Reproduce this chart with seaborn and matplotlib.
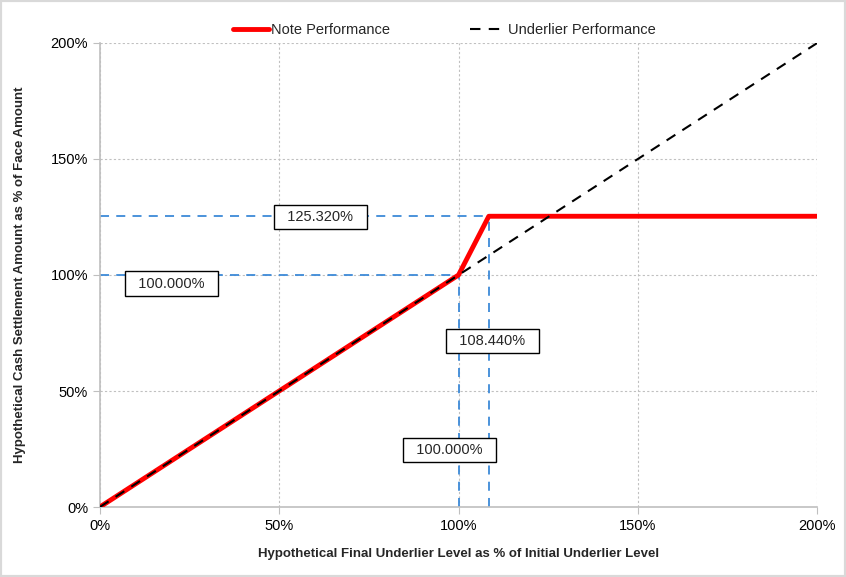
import matplotlib.pyplot as plt
import pandas as pd
import seaborn as sns
from matplotlib.patches import Rectangle

# Payoff data (percent of initial level / face amount)
underlier_level = [0, 100, 108.44, 200]
note_value = [0, 100, 125.32, 125.32]
underlier_value = [0, 100, 108.44, 200]

ticks = [0, 50, 100, 150, 200]
tick_labels = ['0%', '50%', '100%', '150%', '200%']

cap_level = 108.44
cap_value = 125.32

df = pd.DataFrame({'level': underlier_level, 'note': note_value, 'underlier': underlier_value})

sns.set_style('white')
plt.rcParams['font.family'] = ['Liberation Sans', 'DejaVu Sans']

fig = plt.figure(figsize=(8.46, 5.77), dpi=100)
ax = fig.add_axes([0.118, 0.1213, 0.848, 0.8042])

blue = '#3d8ad8'
# reference lines
ax.plot([0, cap_level], [cap_value, cap_value], color=blue, lw=1.3, ls=(0, (5, 4)), zorder=2)
ax.plot([0, 100], [100, 100], color=blue, lw=1.3, ls=(0, (5, 4)), zorder=2)
ax.plot([100, 100], [0, 100], color=blue, lw=1.3, ls=(0, (5, 4)), zorder=2)
ax.plot([cap_level, cap_level], [0, cap_value], color=blue, lw=1.3, ls=(0, (5, 4)), zorder=2)

sns.lineplot(data=df, x='level', y='note', ax=ax, color='#ff0000', lw=3.5,
             label='Note Performance', zorder=3)
sns.lineplot(data=df, x='level', y='underlier', ax=ax, color='black', lw=1.5,
             ls=(0, (5, 4)), label='Underlier Performance', zorder=4)

ax.set_xlim(0, 200)
ax.set_ylim(0, 200)
ax.set_xticks(ticks)
ax.set_xticklabels(tick_labels)
ax.set_yticks(ticks)
ax.set_yticklabels(tick_labels)
ax.tick_params(axis='both', labelsize=10.5, colors='black', length=5, color='#bfbfbf',
               direction='out', bottom=True, left=True)
ax.grid(True, color='#c0c0c0', ls=(0, (2, 2)), lw=0.8)
for side in ['top', 'right']:
    ax.spines[side].set_visible(False)
for side in ['left', 'bottom']:
    ax.spines[side].set_color('#bfbfbf')
    ax.spines[side].set_linewidth(1.2)

ax.set_xlabel('Hypothetical Final Underlier Level as % of Initial Underlier Level',
              fontsize=9.5, fontweight='bold', labelpad=11)
ax.set_ylabel('Hypothetical Cash Settlement Amount as % of Face Amount',
              fontsize=9.5, fontweight='bold', labelpad=18)

box = dict(boxstyle='square,pad=0.35', fc='white', ec='black', lw=1)
ax.text(61.5, 125.0, '  125.320%  ', ha='center', va='center', fontsize=10.5, bbox=box, zorder=5)
ax.text(20, 96.3, '  100.000%  ', ha='center', va='center', fontsize=10.5, bbox=box, zorder=5)
ax.text(109.5, 71.5, '  108.440%  ', ha='center', va='center', fontsize=10.5, bbox=box, zorder=5)
ax.text(97.5, 24.5, '  100.000%  ', ha='center', va='center', fontsize=10.5, bbox=box, zorder=5)

ax.legend(loc='lower center', bbox_to_anchor=(0.48, 1.0), ncol=2, frameon=False,
          fontsize=10.5, handlelength=2.5, handletextpad=0.1, columnspacing=5.5,
          borderaxespad=0.0)

fig.patches.append(Rectangle((0, 0), 1, 1, transform=fig.transFigure, fill=False,
                             ec='#d9d9d9', lw=3))

fig.savefig('out.png', dpi=100)
